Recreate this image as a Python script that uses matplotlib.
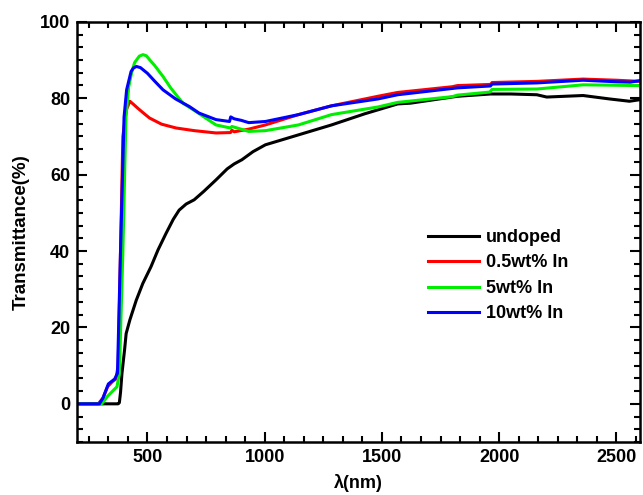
import matplotlib.pyplot as plt
from matplotlib.ticker import MultipleLocator

plt.rcParams['font.family'] = ['Liberation Sans', 'DejaVu Sans']
plt.rcParams['font.weight'] = 'bold'

# wavelength (nm) / transmittance (%)
wl_undoped = [200, 375, 380, 385, 391, 402, 409, 425, 452, 480, 515, 545, 579, 610,
              635, 665, 699, 740, 792, 840, 870, 903, 950, 1003, 1144, 1285, 1426,
              1567, 1622, 1822, 1963, 2050, 2161, 2203, 2358, 2471, 2556, 2600]
t_undoped = [0, 0, 0.3, 3, 7.9, 14, 18.4, 22, 27.1, 31.5, 35.9, 40.3, 44.6, 48.3,
             50.7, 52.3, 53.4, 55.6, 58.6, 61.5, 62.8, 63.9, 66.0, 67.8, 70.4, 73, 75.9,
             78.5, 78.7, 80.5, 81.1, 81.1, 80.9, 80.3, 80.7, 79.8, 79.2, 79.6]

wl_05 = [200, 290, 310, 330, 350, 365, 375, 385, 395, 410, 425, 440, 460, 485, 509,
         560, 622, 700, 792, 854, 860, 870, 932, 1003, 1144, 1285, 1483, 1567, 1800,
         1822, 1963, 1970, 2161, 2358, 2500, 2600]
t_05 = [0, 0, 1.5, 4.5, 5.8, 6.5, 10, 40, 70, 77, 79.2, 78.4, 77.3, 76.0, 74.8,
        73.2, 72.2, 71.5, 70.9, 71.0, 71.6, 71.2, 71.9, 73.0, 75.7, 78.0, 80.5, 81.5,
        83.0, 83.3, 83.6, 84.1, 84.4, 85.0, 84.7, 84.4]

wl_5 = [200, 305, 330, 354, 370, 380, 395, 408, 420, 432, 445, 465, 481, 495, 510,
        530, 566, 600, 651, 707, 792, 854, 860, 932, 1003, 1144, 1285, 1483, 1567,
        1800, 1822, 1960, 1970, 2161, 2358, 2600]
t_5 = [0, 0, 2, 3.5, 4.5, 8, 40, 75, 83, 86.6, 89.3, 91.0, 91.4, 91.1, 90,
       88.6, 85.7, 82.6, 78.7, 76.5, 73, 72.2, 72.6, 71.3, 71.5, 73, 75.7, 77.7, 78.9,
       80.4, 80.8, 81.6, 82.3, 82.4, 83.5, 83.3]

wl_10 = [200, 295, 310, 333, 360, 372, 385, 400, 411, 430, 440, 453, 470, 500, 530,
         566, 620, 679, 720, 792, 850, 855, 870, 900, 932, 1003, 1144, 1285, 1483,
         1567, 1822, 1963, 1970, 2161, 2358, 2500, 2560, 2600]
t_10 = [0, 0, 1.5, 5.2, 6.5, 8, 40, 75, 82.2, 87, 87.9, 88.3, 88.0, 86.5, 84.5,
        82.2, 79.8, 77.8, 76.1, 74.4, 73.9, 75.1, 74.6, 74.2, 73.6, 73.9, 75.7, 78.0,
        79.8, 80.9, 82.7, 83.2, 83.7, 84.0, 84.7, 84.3, 84.2, 84.6]

series = [
    (wl_undoped, t_undoped, 'undoped', 'black'),
    (wl_05, t_05, '0.5wt% In', 'red'),
    (wl_5, t_5, '5wt% In', '#00ee00'),
    (wl_10, t_10, '10wt% In', 'blue'),
]

fig = plt.figure(figsize=(6.43, 4.95), dpi=100)
ax = fig.add_axes([0.120, 0.107, 0.875, 0.849])

for wl, t, label, color in series:
    ax.plot(wl, t, color=color, linewidth=2.2, label=label)

ax.set_xlim(200, 2600)
ax.set_ylim(-10, 100)
ax.xaxis.set_major_locator(MultipleLocator(500))
ax.xaxis.set_minor_locator(MultipleLocator(500 / 6))
ax.yaxis.set_major_locator(MultipleLocator(20))
ax.yaxis.set_minor_locator(MultipleLocator(20 / 6))

ax.tick_params(which='both', direction='in', top=True, right=True, width=1.5)
ax.tick_params(which='major', length=7, labelsize=13, pad=5)
ax.tick_params(which='minor', length=4)
for s in ax.spines.values():
    s.set_linewidth(1.8)

ax.set_xlabel('λ(nm)', fontsize=13, fontweight='bold', labelpad=6)
ax.set_ylabel('Transmittance(%)', fontsize=13.5, fontweight='bold', labelpad=7)

ax.legend(loc='upper left', bbox_to_anchor=(428 / 643, 1 - 229 / 495),
          bbox_transform=fig.transFigure, frameon=False,
          handlelength=2.8, handletextpad=0.4, labelspacing=0.47,
          borderpad=0, borderaxespad=0, prop={'weight': 'bold', 'size': 13})

fig.savefig('out.png', dpi=100)
